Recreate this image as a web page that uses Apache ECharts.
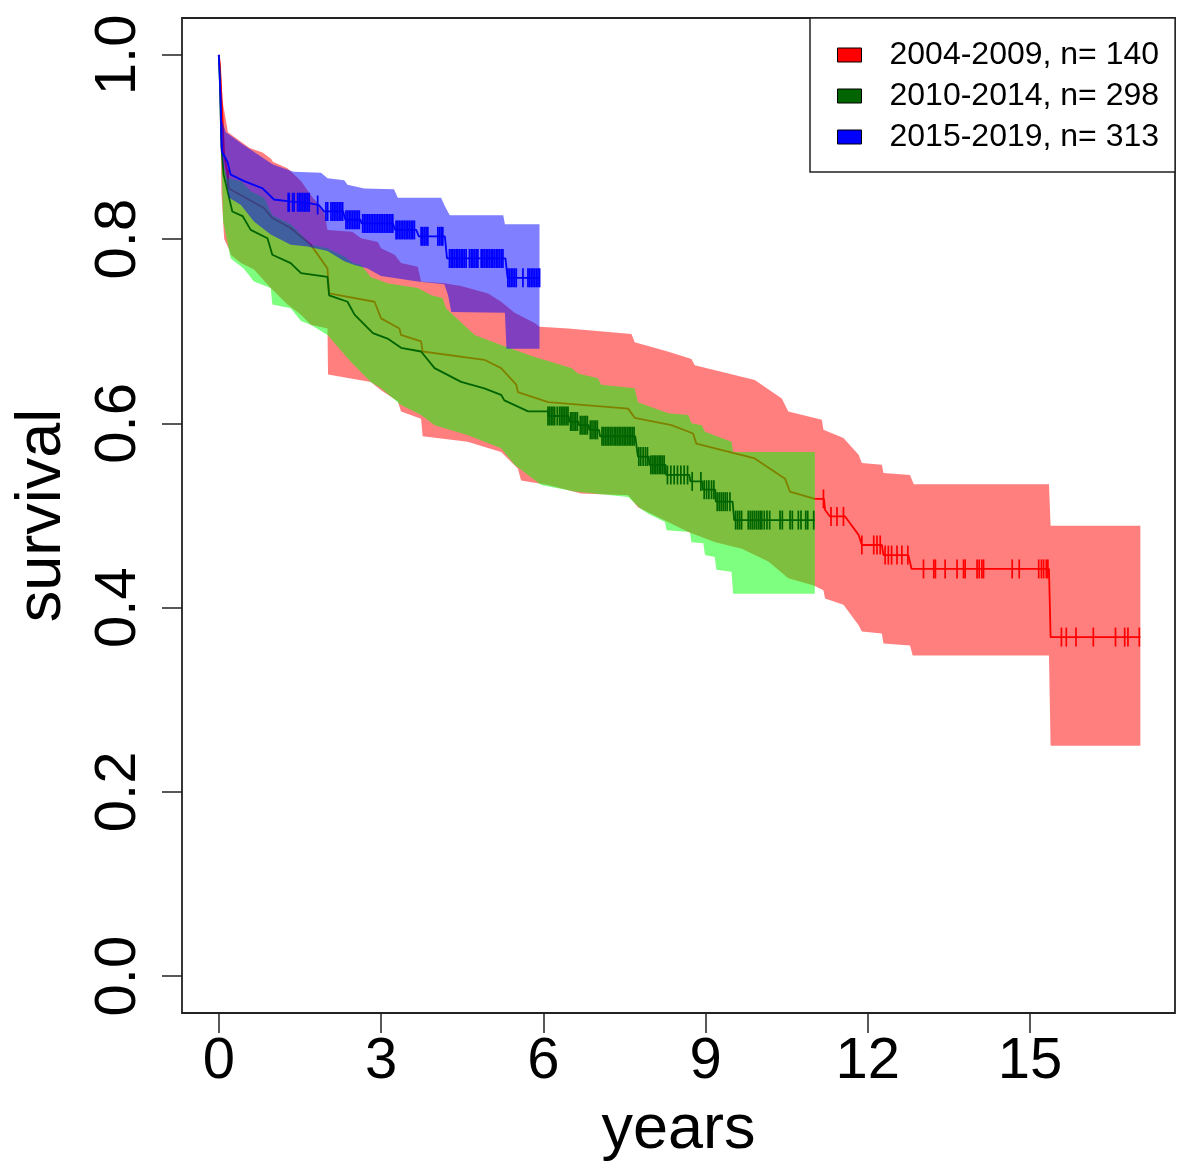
<!DOCTYPE html>
<html>
<head>
<meta charset="utf-8">
<script src="https://cdn.jsdelivr.net/npm/echarts@6/dist/echarts.min.js"></script>
<style>
html,body{margin:0;padding:0;background:#fff;}
#chart{width:1178px;height:1169px;}
</style>
</head>
<body>
<div id="chart"></div>
<script>
// ---------- DATA ----------
const legendNames = ['2004-2009, n= 140', '2010-2014, n= 298', '2015-2019, n= 313'];
const xTicks = [0, 3, 6, 9, 12, 15];
const yTicks = [0, 0.2, 0.4, 0.6, 0.8, 1.0];

// Kaplan-Meier estimates [years, survival]
const redLine = [[0,1],[0.02,0.99],[0.04,0.965],[0.07,0.93],[0.10,0.89],[0.15,0.875],[0.185,0.855],[0.83,0.834],[0.99,0.823],[1.33,0.812],[1.70,0.794],[2.01,0.768],[2.04,0.741],[2.88,0.732],[3.00,0.714],[3.34,0.703],[3.37,0.696],[3.74,0.689],[3.77,0.678],[4.91,0.669],[5.22,0.660],[5.50,0.642],[5.53,0.634],[6.09,0.623],[7.57,0.616],[7.69,0.606],[8.37,0.598],[8.77,0.589],[8.83,0.578],[9.91,0.562],[10.47,0.540],[10.56,0.526],[11.02,0.518],[11.19,0.518],[11.21,0.506],[11.30,0.499],[11.58,0.499],[11.83,0.479],[11.89,0.468],[12.26,0.468],[12.29,0.457],[12.75,0.457],[12.81,0.442],[15.35,0.442],[15.38,0.368],[17.04,0.368]];
const greenLine = [[0,1],[0.02,0.97],[0.05,0.9],[0.09,0.87],[0.19,0.845],[0.25,0.830],[0.44,0.825],[0.59,0.810],[0.90,0.801],[0.99,0.783],[1.33,0.774],[1.52,0.763],[2.01,0.759],[2.04,0.739],[2.38,0.732],[2.51,0.718],[2.85,0.698],[3.12,0.692],[3.37,0.682],[3.74,0.678],[3.99,0.660],[4.48,0.645],[4.91,0.638],[5.22,0.631],[5.28,0.625],[5.72,0.613],[6.09,0.613],[6.10,0.608],[6.47,0.608],[6.48,0.602],[6.65,0.602],[6.66,0.598],[6.84,0.598],[6.85,0.593],[7.03,0.593],[7.05,0.586],[7.70,0.586],[7.75,0.564],[7.95,0.564],[7.96,0.555],[8.26,0.555],[8.27,0.544],[8.70,0.544],[8.72,0.537],[8.94,0.537],[8.95,0.528],[9.18,0.528],[9.19,0.515],[9.50,0.515],[9.53,0.495],[11.02,0.495]];
const blueLine = [[0,1],[0.03,0.96],[0.06,0.895],[0.16,0.884],[0.22,0.870],[0.47,0.863],[0.81,0.855],[1.02,0.843],[1.30,0.841],[1.67,0.839],[1.85,0.837],[1.95,0.830],[2.30,0.830],[2.34,0.821],[2.62,0.821],[2.64,0.817],[3.22,0.817],[3.26,0.810],[3.65,0.810],[3.70,0.803],[4.18,0.803],[4.22,0.779],[5.30,0.779],[5.34,0.758],[5.93,0.758]];

// confidence band edges [years, survival]
const redUpper = [[0,1],[0.03,0.99],[0.07,0.95],[0.17,0.916],[0.57,0.899],[0.81,0.894],[0.97,0.887],[1.0,0.884],[1.27,0.877],[1.52,0.863],[1.70,0.848],[1.95,0.830],[2.01,0.810],[2.47,0.808],[2.63,0.801],[2.94,0.797],[3.0,0.790],[3.25,0.783],[3.37,0.774],[3.68,0.770],[3.74,0.754],[4.17,0.752],[4.48,0.749],[4.98,0.741],[5.22,0.732],[5.47,0.720],[5.84,0.709],[5.93,0.705],[6.46,0.703],[7.63,0.697],[7.69,0.688],[8.30,0.678],[8.74,0.670],[8.80,0.663],[9.91,0.647],[10.41,0.627],[10.53,0.613],[11.15,0.604],[11.18,0.593],[11.55,0.584],[11.83,0.566],[11.89,0.557],[12.26,0.555],[12.29,0.546],[12.78,0.544],[12.85,0.534],[15.35,0.534],[15.38,0.489],[17.04,0.489]];
const redLower = [[0,1],[0.02,0.96],[0.05,0.85],[0.10,0.80],[0.19,0.789],[0.22,0.783],[0.41,0.774],[0.65,0.767],[0.96,0.747],[1.27,0.729],[1.52,0.718],[1.70,0.707],[2.01,0.703],[2.02,0.653],[2.81,0.645],[3.0,0.636],[3.31,0.624],[3.37,0.613],[3.74,0.605],[3.77,0.586],[4.60,0.580],[5.22,0.569],[5.53,0.551],[5.59,0.538],[6.09,0.533],[6.70,0.524],[7.57,0.522],[7.75,0.509],[8.68,0.482],[9.18,0.471],[9.67,0.464],[10.16,0.450],[10.53,0.432],[11.0,0.424],[11.18,0.419],[11.21,0.410],[11.55,0.403],[11.83,0.381],[11.89,0.374],[12.26,0.372],[12.29,0.361],[12.78,0.359],[12.83,0.348],[15.35,0.348],[15.38,0.250],[17.04,0.250]];
const greenUpper = [[0,1],[0.03,0.95],[0.08,0.88],[0.16,0.866],[0.41,0.863],[0.59,0.852],[0.84,0.845],[0.99,0.826],[1.33,0.816],[1.52,0.805],[1.70,0.794],[2.01,0.790],[2.32,0.781],[2.48,0.774],[2.63,0.772],[2.81,0.759],[3.12,0.752],[3.68,0.747],[3.93,0.739],[4.14,0.736],[4.20,0.725],[4.73,0.696],[5.22,0.685],[5.84,0.672],[6.52,0.660],[6.64,0.654],[7.01,0.649],[7.07,0.642],[7.69,0.638],[7.75,0.623],[8.31,0.611],[8.68,0.609],[8.74,0.600],[8.93,0.598],[8.99,0.591],[9.48,0.580],[9.51,0.569],[11.02,0.569]];
const greenLower = [[0,1],[0.03,0.93],[0.08,0.82],[0.22,0.779],[0.46,0.768],[0.65,0.754],[0.96,0.747],[0.99,0.729],[1.33,0.725],[1.52,0.711],[1.70,0.707],[2.01,0.696],[2.44,0.667],[2.81,0.645],[3.0,0.638],[3.37,0.620],[3.74,0.609],[3.99,0.598],[4.61,0.587],[5.22,0.573],[5.47,0.555],[5.96,0.533],[6.58,0.526],[7.57,0.520],[7.79,0.508],[7.94,0.502],[8.25,0.493],[8.28,0.484],[8.71,0.482],[8.74,0.471],[8.96,0.470],[8.99,0.457],[9.17,0.455],[9.20,0.441],[9.48,0.439],[9.51,0.415],[11.02,0.415]];
const blueUpper = [[0,1],[0.05,0.93],[0.13,0.916],[0.44,0.903],[1.0,0.881],[1.38,0.873],[1.89,0.872],[2.01,0.866],[2.32,0.864],[2.38,0.859],[2.69,0.855],[3.24,0.854],[3.31,0.845],[4.11,0.845],[4.17,0.837],[4.27,0.826],[5.26,0.826],[5.29,0.816],[5.93,0.816]];
const blueLower = [[0,1],[0.03,0.90],[0.19,0.845],[0.41,0.837],[0.65,0.819],[0.96,0.805],[1.33,0.794],[1.64,0.792],[2.01,0.787],[2.32,0.776],[2.51,0.772],[2.75,0.768],[3.0,0.760],[3.68,0.754],[4.17,0.751],[4.24,0.739],[4.30,0.721],[5.29,0.720],[5.32,0.681],[5.93,0.681]];

// censored observations [years, survival]
const redCensor = [[0.17,0.865],[11.18,0.518],[11.32,0.499],[11.43,0.499],[11.55,0.499],[11.89,0.468],[12.11,0.468],[12.17,0.468],[12.23,0.468],[12.32,0.457],[12.38,0.457],[12.44,0.457],[12.54,0.457],[12.63,0.457],[12.74,0.457],[13.03,0.442],[13.22,0.442],[13.25,0.442],[13.43,0.442],[13.65,0.442],[13.77,0.442],[13.80,0.442],[14.02,0.442],[14.06,0.442],[14.11,0.442],[14.14,0.442],[14.67,0.442],[14.80,0.442],[15.16,0.442],[15.21,0.442],[15.25,0.442],[15.30,0.442],[15.33,0.442],[15.58,0.368],[15.67,0.368],[15.85,0.368],[16.17,0.368],[16.58,0.368],[16.75,0.368],[16.81,0.368],[17.02,0.368]];
const greenCensor = [[6.087,0.608],[6.117,0.608],[6.148,0.608],[6.179,0.608],[6.210,0.608],[6.259,0.608],[6.302,0.608],[6.333,0.608],[6.364,0.608],[6.395,0.608],[6.426,0.608],[6.457,0.608],
[6.506,0.602],[6.531,0.602],[6.568,0.602],[6.599,0.602],[6.630,0.602],
[6.685,0.598],[6.716,0.598],[6.753,0.598],[6.784,0.598],[6.815,0.598],
[6.870,0.593],[6.901,0.593],[6.938,0.593],[6.969,0.593],[7.000,0.593],
[7.086,0.586],[7.117,0.586],[7.148,0.586],[7.179,0.586],[7.210,0.586],[7.241,0.586],[7.272,0.586],[7.309,0.586],[7.340,0.586],[7.370,0.586],[7.401,0.586],[7.432,0.586],[7.463,0.586],[7.494,0.586],[7.525,0.586],[7.556,0.586],[7.586,0.586],[7.617,0.586],[7.648,0.586],[7.679,0.586],
[7.766,0.564],[7.802,0.564],[7.846,0.564],[7.889,0.564],[7.926,0.564],
[7.988,0.555],[8.019,0.555],[8.049,0.555],[8.080,0.555],[8.111,0.555],[8.142,0.555],[8.173,0.555],[8.204,0.555],[8.235,0.555],
[8.296,0.544],[8.358,0.544],[8.420,0.544],[8.481,0.544],[8.543,0.544],[8.605,0.544],[8.667,0.544],
[8.753,0.537],[8.914,0.537],
[8.975,0.528],[9.019,0.528],[9.062,0.528],[9.111,0.528],[9.154,0.528],
[9.216,0.515],[9.253,0.515],[9.290,0.515],[9.327,0.515],[9.364,0.515],[9.401,0.515],[9.451,0.515],
[9.556,0.495],[9.593,0.495],[9.630,0.495],[9.667,0.495],[9.790,0.495],[9.827,0.495],[9.864,0.495],[9.901,0.495],[9.938,0.495],[9.975,0.495],[10.010,0.495],[10.040,0.495],[10.086,0.495],[10.136,0.495],[10.185,0.495],[10.377,0.495],[10.420,0.495],[10.562,0.495],[10.605,0.495],[10.716,0.495],[10.765,0.495],[10.852,0.495],[10.889,0.495],[11.000,0.495]];
const blueCensor = [[1.283,0.840],[1.302,0.840],[1.365,0.840],[1.394,0.840],[1.457,0.840],[1.487,0.840],[1.519,0.840],[1.550,0.840],[1.580,0.840],[1.611,0.840],[1.643,0.840],[1.672,0.840],[1.828,0.837],
[1.981,0.830],[2.013,0.830],[2.074,0.830],[2.106,0.830],[2.135,0.830],[2.167,0.830],[2.198,0.830],[2.228,0.830],[2.259,0.830],[2.290,0.830],
[2.352,0.821],[2.383,0.821],[2.413,0.821],[2.444,0.821],[2.476,0.821],[2.506,0.821],[2.537,0.821],[2.569,0.821],[2.598,0.821],
[2.661,0.817],[2.691,0.817],[2.722,0.817],[2.754,0.817],[2.783,0.817],[2.815,0.817],[2.846,0.817],[2.876,0.817],[2.907,0.817],[2.939,0.817],[2.969,0.817],[3.000,0.817],[3.031,0.817],[3.061,0.817],[3.093,0.817],[3.124,0.817],[3.154,0.817],[3.185,0.817],[3.217,0.817],
[3.278,0.810],[3.309,0.810],[3.339,0.810],[3.370,0.810],[3.402,0.810],[3.432,0.810],[3.463,0.810],[3.494,0.810],[3.524,0.810],[3.556,0.810],[3.587,0.810],[3.617,0.810],
[3.741,0.803],[3.772,0.803],[3.802,0.803],[3.833,0.803],[3.865,0.803],[4.050,0.803],[4.080,0.803],[4.111,0.803],[4.142,0.803],
[4.265,0.779],[4.296,0.779],[4.328,0.779],[4.357,0.779],[4.389,0.779],[4.420,0.779],[4.450,0.779],[4.481,0.779],[4.513,0.779],[4.543,0.779],[4.574,0.779],[4.635,0.779],[4.667,0.779],[4.698,0.779],[4.728,0.779],[4.759,0.779],[4.791,0.779],[4.852,0.779],[4.883,0.779],[4.913,0.779],[4.944,0.779],[4.976,0.779],[5.006,0.779],[5.037,0.779],[5.068,0.779],[5.098,0.779],[5.130,0.779],[5.161,0.779],[5.191,0.779],[5.222,0.779],[5.254,0.779],
[5.346,0.758],[5.376,0.758],[5.407,0.758],[5.439,0.758],[5.469,0.758],[5.500,0.758],[5.624,0.758],[5.717,0.758],[5.747,0.758],[5.778,0.758],[5.809,0.758],[5.839,0.758],[5.870,0.758],[5.902,0.758],[5.932,0.758]];

// ---------- CHART ----------
const FONT = "'Liberation Sans', Arial, Helvetica, sans-serif";
const chart = echarts.init(document.getElementById('chart'), null, {renderer: 'canvas'});

function band(name, upper, lower, fill, z) {
  return {
    type: 'custom', name: name, z: z, silent: true, clip: true,
    data: [[upper[0][0], upper[0][1]]],
    renderItem: function (params, api) {
      const pts = upper.map(p => api.coord(p)).concat(lower.slice().reverse().map(p => api.coord(p)));
      return {type: 'polygon', shape: {points: pts}, style: {fill: fill}};
    }
  };
}
function curve(name, data, color, z) {
  return {type: 'line', name: name, data: data, z: z, silent: true, showSymbol: false, symbol: 'none',
    lineStyle: {color: color, width: 1.8}, itemStyle: {color: color}, clip: true};
}
function marks(name, data, color, z) {
  return {type: 'scatter', name: name, data: data, z: z, silent: true, symbol: 'rect',
    symbolSize: [1.7, 19], itemStyle: {color: color, opacity: 1}};
}

const legendColors = ['#ff0000', '#006400', '#0000ff'];

chart.setOption({
  animation: false,
  backgroundColor: '#ffffff',
  grid: {left: 182, right: 3, top: 18, bottom: 156, show: true, borderColor: '#222', borderWidth: 1.8, backgroundColor: 'transparent'},
  legend: {
    left: 810, top: 18, orient: 'vertical', backgroundColor: '#fff',
    borderColor: '#222', borderWidth: 1.5, borderRadius: 0,
    padding: [21, 16, 19, 27], itemWidth: 24, itemHeight: 14, itemGap: 9,
    icon: 'rect', selectedMode: false,
    textStyle: {fontSize: 32, fontFamily: FONT, color: '#000', rich: {g: {width: 23}}},
    formatter: function (n) { return '{g| }' + n; },
    data: legendNames.map((n, i) => ({name: n, itemStyle: {color: legendColors[i], borderColor: '#000', borderWidth: 1}}))
  },
  xAxis: {
    type: 'value', min: -0.68, max: 17.68,
    name: 'years', nameLocation: 'middle', nameGap: 86,
    nameTextStyle: {fontSize: 63, fontFamily: FONT, color: '#000'},
    axisLine: {show: false, onZero: false}, splitLine: {show: false},
    axisTick: {show: true, customValues: xTicks, length: 20, lineStyle: {color: '#222', width: 1.5}},
    axisLabel: {customValues: xTicks, fontSize: 58, fontFamily: FONT, color: '#000', margin: 20}
  },
  yAxis: {
    type: 'value', min: -0.04, max: 1.04,
    name: 'survival', nameLocation: 'middle', nameGap: 108, nameRotate: 90,
    nameTextStyle: {fontSize: 63, fontFamily: FONT, color: '#000'},
    axisLine: {show: false, onZero: false}, splitLine: {show: false},
    axisTick: {show: true, customValues: yTicks, length: 20, lineStyle: {color: '#222', width: 1.5}},
    axisLabel: {customValues: yTicks, rotate: 90, align: 'center', verticalAlign: 'bottom', margin: 34,
      fontSize: 58, fontFamily: FONT, color: '#000', formatter: v => v.toFixed(1)}
  },
  series: [
    band(legendNames[0], redUpper, redLower, 'rgba(255,0,0,0.5)', 1),
    curve('red KM', redLine, '#ff0000', 2),
    marks('red censored', redCensor, '#ff0000', 3),
    band(legendNames[1], greenUpper, greenLower, 'rgba(0,255,0,0.5)', 4),
    curve('green KM', greenLine, '#006400', 5),
    marks('green censored', greenCensor, '#006400', 6),
    band(legendNames[2], blueUpper, blueLower, 'rgba(0,0,255,0.5)', 7),
    curve('blue KM', blueLine, '#0000ff', 8),
    marks('blue censored', blueCensor, '#0000ff', 9)
  ]
});
</script>
</body>
</html>
